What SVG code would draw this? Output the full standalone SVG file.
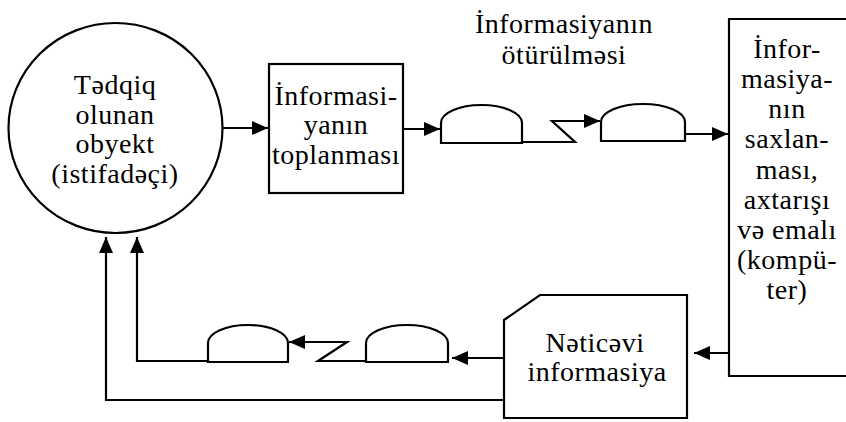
<svg xmlns="http://www.w3.org/2000/svg" width="846" height="422" viewBox="0 0 846 422">
<style>
.s{fill:none;stroke:#000;stroke-width:2.2;stroke-linejoin:miter}
.n{fill:#fff;stroke:#000;stroke-width:2.2}
text{font-family:"Liberation Serif","Times New Roman",serif;font-size:28px;letter-spacing:0.5px;fill:#000;text-anchor:middle}
</style>
<defs>
<marker id="ah" viewBox="0 0 16 14" refX="16" refY="7" markerWidth="16" markerHeight="14" markerUnits="userSpaceOnUse" orient="auto">
<path d="M0,0 L16,7 L0,14 Z" fill="#000"/>
</marker>
</defs>
<rect width="846" height="422" fill="#fff"/>
<g id="connectors" class="s">
<path class="s" d="M223,128 H268" marker-end="url(#ah)"/>
<path class="s" d="M403,129 H440" marker-end="url(#ah)"/>
<path class="s" d="M522,142 H575 L552,121 H600" marker-end="url(#ah)"/>
<path class="s" d="M685,134 H728" marker-end="url(#ah)"/>
<path class="s" d="M729,353 H694" marker-end="url(#ah)"/>
<path class="s" d="M504,358 H452" marker-end="url(#ah)"/>
<path class="s" d="M366,361 H318 L347,342 H289" marker-end="url(#ah)"/>
<path class="s" d="M208,361 H137 V237" marker-end="url(#ah)"/>
<path class="s" d="M504,400 H106 V237" marker-end="url(#ah)"/>
</g>
<g id="obyekt">
<ellipse class="n" cx="115.5" cy="128" rx="107" ry="105"/>
<text x="115" y="94">Tədqiq</text>
<text x="115" y="124">olunan</text>
<text x="115" y="153">obyekt</text>
<text x="115" y="183">(istifadəçi)</text>
</g>
<g id="toplanma">
<rect class="n" x="269" y="64" width="134" height="129"/>
<text x="336" y="105">İnformasi-</text>
<text x="336" y="134">yanın</text>
<text x="336" y="164">toplanması</text>
</g>
<g id="oturulme-label">
<text x="564" y="33">İnformasiyanın</text>
<text x="564" y="64">ötürülməsi</text>
</g>
<g id="modem1"><path class="n" d="M441,143 V123 A40.5,18 0 0 1 522,123 V143 Z"/></g>
<g id="modem2"><path class="n" d="M601,141 V122 A42,18 0 0 1 685,122 V141 Z"/></g>
<g id="kompyuter">
<path class="n" d="M850,19 H729 V376 H850"/>
<text x="787" y="58">İnfor-</text>
<text x="787" y="88">masiya-</text>
<text x="787" y="118">nın</text>
<text x="787" y="148">saxlan-</text>
<text x="787" y="179">ması,</text>
<text x="787" y="209">axtarışı</text>
<text x="787" y="239">və emalı</text>
<text x="787" y="269">(kompü-</text>
<text x="787" y="299">ter)</text>
</g>
<g id="neticevi">
<path class="n" d="M504,320 L540,295 H687 V418 H504 Z"/>
<text x="595" y="352">Nəticəvi</text>
<text x="597" y="381">informasiya</text>
</g>
<g id="modem3"><path class="n" d="M208,362 V343 A40,18 0 0 1 288,343 V362 Z"/></g>
<g id="modem4"><path class="n" d="M366,362 V343 A41,18 0 0 1 448,343 V362 Z"/></g>
</svg>
